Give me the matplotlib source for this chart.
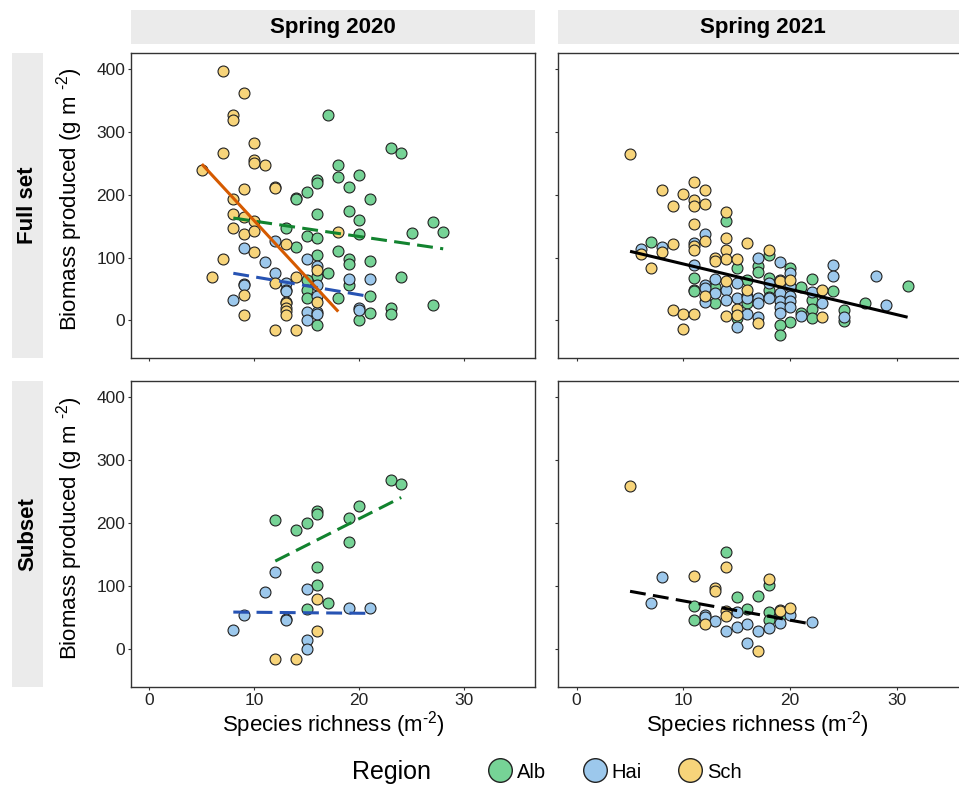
import matplotlib
matplotlib.use("Agg")
import matplotlib.pyplot as plt
from matplotlib.lines import Line2D

plt.rcParams['font.family'] = ['Liberation Sans', 'DejaVu Sans']

# categories
regions = ['Alb', 'Hai', 'Sch']
region_colors = {'Alb': '#76D396', 'Hai': '#9CC8EC', 'Sch': '#F7D47A'}
seasons = ['Spring 2020', 'Spring 2021']
data_sets = ['Full set', 'Subset']

# Full set, spring 2020
full20_alb_x = [17, 23, 24, 18, 18, 20, 16, 16, 19, 15, 14, 14, 21, 16, 19, 20, 27, 28, 13, 15,
                16, 20, 25, 14, 18, 16, 19, 19, 21, 16, 17, 24, 19, 15, 15, 15, 18, 21, 21, 23,
                23, 27, 20, 16]
full20_alb_y = [327, 274, 267, 248, 228, 232, 224, 219, 213, 204, 195, 193, 193, 169, 174, 160, 156, 141, 147, 134,
                132, 137, 139, 117, 111, 104, 97, 89, 95, 71, 76, 69, 56, 64, 49, 36, 36, 38, 12, 19,
                10, 25, 1, -7]
full20_hai_x = [12, 9, 11, 15, 16, 12, 9, 9, 13, 13, 13, 16, 16, 19, 21, 8, 15, 16, 16, 15, 20, 20]
full20_hai_y = [126, 115, 93, 97, 86, 76, 58, 56, 60, 49, 47, 56, 38, 66, 66, 32, 14, 14, 10, 1, 19, 17]
full20_sch_x = [7, 9, 8, 8, 10, 7, 10, 10, 11, 5, 9, 12, 12, 8, 8, 9, 10, 8, 9, 10,
                13, 10, 7, 18, 6, 14, 12, 16, 9, 13, 13, 13, 13, 13, 16, 9, 12, 14]
full20_sch_y = [397, 363, 327, 319, 282, 267, 255, 251, 248, 239, 209, 213, 211, 193, 169, 164, 158, 147, 138, 143,
                122, 109, 97, 141, 69, 69, 60, 80, 40, 30, 28, 19, 15, 9, 30, 8, -16, -16]

# Full set, spring 2021
full21_alb_x = [7, 14, 15, 17, 17, 18, 20, 11, 11, 11, 13, 13, 16, 18, 18, 21, 22, 24, 22, 22,
                22, 27, 31, 16, 15, 20, 19, 19, 25, 25, 21, 18]
full21_alb_y = [125, 158, 83, 86, 77, 104, 84, 68, 49, 47, 53, 27, 64, 68, 48, 53, 66, 47, 32, 18,
                3, 27, 55, 27, 3, -2, -8, -23, 16, -1, 11, 37]
full21_hai_x = [6, 8, 11, 12, 11, 17, 19, 24, 24, 28, 13, 15, 19, 20, 20, 12, 12, 14, 18, 22,
                13, 15, 16, 16, 17, 17, 18, 19, 19, 19, 19, 20, 20, 20, 14, 12, 16, 17, 21, 23,
                25, 29, 15]
full21_hai_y = [114, 117, 124, 138, 88, 99, 93, 88, 70, 70, 66, 60, 64, 75, 54, 56, 52, 48, 60, 45,
                44, 36, 39, 35, 35, 28, 35, 43, 31, 22, 11, 38, 31, 22, 32, 30, 10, 5, 7, 27,
                5, 25, -11]
full21_sch_x = [5, 8, 10, 9, 11, 12, 11, 11, 12, 14, 11, 14, 12, 11, 11, 9, 14, 14, 16, 8,
                6, 7, 13, 13, 15, 18, 14, 19, 20, 23, 16, 12, 9, 10, 11, 10, 14, 15, 15, 17, 23]
full21_sch_y = [265, 208, 201, 182, 221, 208, 191, 183, 186, 173, 153, 131, 127, 118, 112, 121, 112, 97, 124, 109,
                106, 84, 100, 95, 97, 112, 62, 62, 65, 49, 49, 39, 16, 10, 10, -14, 7, 18, 9, -4, 5]

# Subset, spring 2020
sub20_alb_x = [23, 24, 20, 16, 16, 19, 12, 15, 14, 19, 16, 16, 17, 15]
sub20_alb_y = [268, 262, 228, 219, 215, 208, 206, 200, 190, 171, 130, 102, 74, 64]
sub20_hai_x = [12, 11, 15, 19, 21, 9, 13, 13, 8, 15, 15]
sub20_hai_y = [123, 91, 96, 66, 66, 55, 48, 46, 31, 14, 1]
sub20_sch_x = [16, 16, 12, 14]
sub20_sch_y = [79, 29, -16, -16]

# Subset, spring 2021
sub21_alb_x = [14, 18, 15, 17, 11, 16, 18, 18, 11, 19]
sub21_alb_y = [155, 102, 83, 85, 68, 64, 59, 47, 46, 52]
sub21_hai_x = [8, 7, 12, 12, 15, 20, 22, 13, 14, 15, 16, 17, 18, 19, 16]
sub21_hai_y = [115, 74, 55, 51, 59, 55, 44, 45, 29, 35, 40, 29, 34, 42, 10]
sub21_sch_x = [5, 14, 11, 18, 13, 13, 14, 14, 19, 19, 20, 12, 17]
sub21_sch_y = [260, 130, 117, 111, 98, 93, 60, 53, 62, 60, 66, 40, -3]

# fitted lines: (x start, x end), (y start, y end), colour, dashed?
full20_fits = [((8, 28), (163, 114), '#12832F', True),
               ((8, 21), (75, 38), '#2753B3', True),
               ((5, 18), (249, 14), '#D55A00', False)]
full21_fits = [((5, 31), (110, 5), 'black', False)]
sub20_fits = [((12, 24), (140, 241), '#12832F', True),
              ((8, 21), (59, 57), '#2753B3', True)]
sub21_fits = [((5, 22), (92, 40), 'black', True)]

panels = {
    (0, 0): ({'Alb': (full20_alb_x, full20_alb_y), 'Hai': (full20_hai_x, full20_hai_y),
              'Sch': (full20_sch_x, full20_sch_y)}, full20_fits),
    (0, 1): ({'Alb': (full21_alb_x, full21_alb_y), 'Hai': (full21_hai_x, full21_hai_y),
              'Sch': (full21_sch_x, full21_sch_y)}, full21_fits),
    (1, 0): ({'Alb': (sub20_alb_x, sub20_alb_y), 'Hai': (sub20_hai_x, sub20_hai_y),
              'Sch': (sub20_sch_x, sub20_sch_y)}, sub20_fits),
    (1, 1): ({'Alb': (sub21_alb_x, sub21_alb_y), 'Hai': (sub21_hai_x, sub21_hai_y),
              'Sch': (sub21_sch_x, sub21_sch_y)}, sub21_fits),
}

W, H = 959, 787
fig = plt.figure(figsize=(W / 100, H / 100), dpi=100)


def box(x0, y0, x1, y1):
    # pixel box (top-left origin) -> figure fraction rect
    return [x0 / W, 1 - y1 / H, (x1 - x0) / W, (y1 - y0) / H]


col_x = [(131, 535), (558, 969)]
row_y = [(53, 358), (381, 687)]
strip_grey = '#EBEBEB'
edge = '#333333'
sup = '\u2010' + '2'   # hyphen style "-2" superscript

for (r, c), (pts, fits) in panels.items():
    x0, x1 = col_x[c]
    y0, y1 = row_y[r]
    ax = fig.add_axes(box(x0, y0, x1, y1))
    for reg in regions:
        xs, ys = pts[reg]
        ax.scatter(xs, ys, s=62, color=region_colors[reg], edgecolors='#222222',
                   linewidths=0.8, zorder=2)
    for (fx, fy, col, dashed) in fits:
        ls = (0, (5.2, 2.4)) if dashed else '-'
        ax.plot(fx, fy, color=col, lw=2.2, ls=ls, zorder=3, solid_capstyle='butt')
    ax.set_xlim(-1.75, 36.75)
    ax.set_ylim(-60, 426)
    ax.set_xticks([0, 10, 20, 30])
    ax.set_yticks([0, 100, 200, 300, 400])
    for sp in ax.spines.values():
        sp.set_color(edge)
        sp.set_linewidth(1.0)
    ax.tick_params(direction='out', length=2.5, width=0.8, color=edge,
                   labelsize=12.5, labelcolor='#222222', pad=1.5,
                   labelbottom=(r == 1), labelleft=(c == 0))

    if r == 0:
        sax = fig.add_axes(box(x0, 10, x1, 44))
        sax.set_facecolor(strip_grey)
        sax.set_xticks([])
        sax.set_yticks([])
        for sp in sax.spines.values():
            sp.set_visible(False)
        sax.text(0.5 if c == 0 else (763 - x0) / (x1 - x0), 0.5, seasons[c],
                 transform=sax.transAxes, ha='center', va='center',
                 fontsize=16, fontweight='bold')
    if c == 0:
        sax = fig.add_axes(box(12, y0, 43, y1))
        sax.set_facecolor(strip_grey)
        sax.set_xticks([])
        sax.set_yticks([])
        for sp in sax.spines.values():
            sp.set_visible(False)
        sax.text(0.5, 0.5, data_sets[r], transform=sax.transAxes, ha='center',
                 va='center', rotation=90, fontsize=16, fontweight='bold')
        fig.text(70 / W, 1 - ((y0 + y1) / 2 - 6) / H,
                 r'Biomass produced (g m $^{\mathregular{' + sup + r'}}$)',
                 rotation=90, ha='center', va='center', fontsize=16)
    if r == 1:
        fig.text(((x0 + min(x1, 969)) / 2 + (0 if c == 0 else -6)) / W, 1 - 725 / H,
                 r'Species richness (m$^{\mathregular{' + sup + r'}}$)',
                 ha='center', va='center', fontsize=16)

# legend along the bottom
fig.text(352 / W, 1 - 772 / H, 'Region', ha='left', va='center', fontsize=18)
handles = [Line2D([], [], marker='o', ls='', markersize=17,
                  markerfacecolor=region_colors[reg], markeredgecolor='#222222',
                  markeredgewidth=1.0) for reg in regions]
fig.legend(handles, regions, loc='center left', bbox_to_anchor=(488 / W, 1 - 772 / H),
           ncol=3, frameon=False, fontsize=14.5, handlelength=1.2, handletextpad=0.25,
           columnspacing=1.8, borderpad=0, borderaxespad=0, numpoints=1)

fig.savefig('out.png', dpi=100)
